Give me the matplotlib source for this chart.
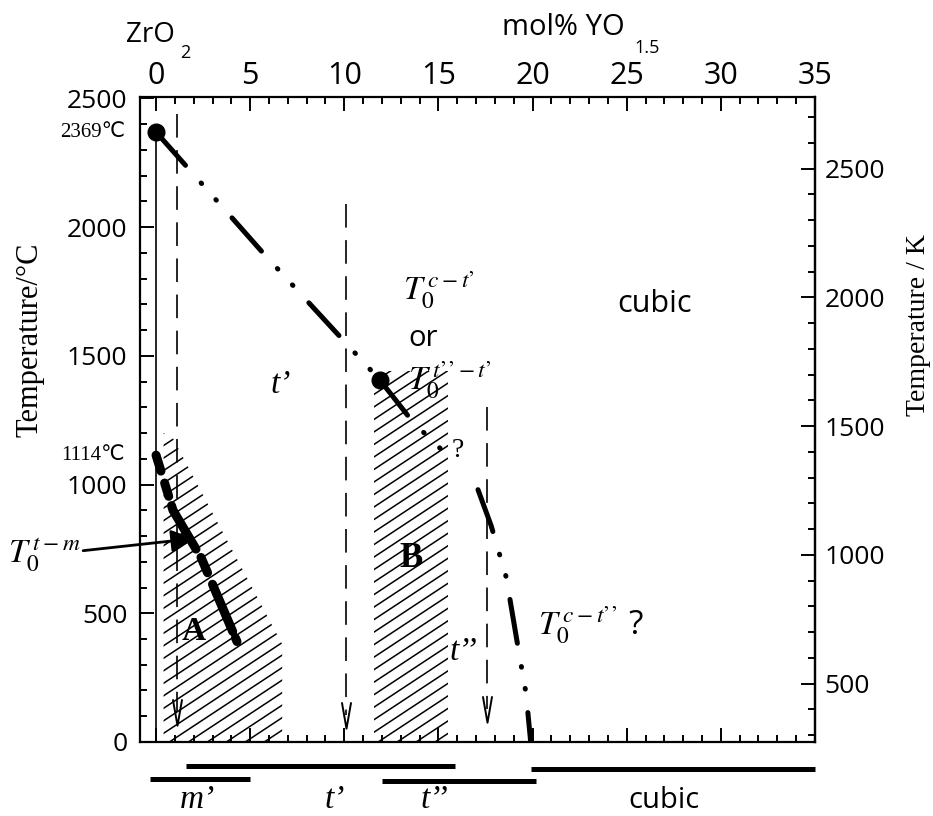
import numpy as np
import matplotlib
matplotlib.use('Agg')
import matplotlib.pyplot as plt
from matplotlib.patches import Polygon
from matplotlib.collections import LineCollection
from matplotlib.path import Path
from matplotlib.ticker import MultipleLocator

plt.rcParams['font.family'] = ['Open Sans', 'DejaVu Sans']
plt.rcParams['mathtext.fontset'] = 'stix'
plt.rcParams['lines.scale_dashes'] = False

# ZrO2 end member
zro2_x = 0
zro2_melt_t = 2369
zro2_tm_t = 1114

# T0 curves (mol% YO1.5, degC)
t0_ct_x = [0, 5.7, 11.9]
t0_ct_y = [2369, 1898, 1405]
t0_tt_x = [11.9, 13.65, 15.1]
t0_tt_y = [1405, 1242, 1140]
t0_tm_x = [0, 0.9, 2.4, 4.3]
t0_tm_y = [1114, 900, 715, 390]
t0_ctt_x = [17.1, 17.8, 18.6, 19.2, 19.65, 19.9]
t0_ctt_y = [980, 840, 640, 380, 190, 0]

# compositional limits (dashed, arrow at the bottom)
limit_x = [1.1, 10.1, 17.6]
limit_top = [2440, 2090, 1300]
limit_bot = [115, 105, 130]

# hatched regions A and B
region_a_x = [0.4, 0.4, 6.7, 6.7, 0.75]
region_a_y = [1200, 0, 0, 380, 1200]
region_b_x = [11.6, 11.6, 15.5, 15.5]
region_b_y = [1440, 0, 0, 1440]

# phase ranges at room temperature
phase_names = ["m’", "t’", "t’’", "cubic"]
phase_lo = [-0.3, 1.6, 12.0, 19.9]
phase_hi = [5.0, 15.9, 20.2, 35.0]

x_ticks = [0, 5, 10, 15, 20, 25, 30, 35]
c_ticks = [0, 500, 1000, 1500, 2000, 2500]
k_ticks = [500, 1000, 1500, 2000, 2500]

serif = ['Liberation Serif', 'DejaVu Sans']
dashdotdot = (0, (32, 17, 0.5, 15.5, 0.5, 17))


def hatch_region(ax, xs, ys, spacing=0.0194, slope=0.69):
    poly = Polygon(np.column_stack([xs, ys]), closed=True, fill=False,
                   lw=0, transform=ax.transData)
    ax.add_patch(poly)
    segs = [[(0, c), (1, c + slope)] for c in np.arange(-1.0, 1.0, spacing)]
    lc = LineCollection(segs, colors='k', linewidths=1.1,
                        transform=ax.transAxes)
    lc.set_clip_path(poly)
    ax.add_collection(lc)


fig = plt.figure(figsize=(9.33, 8.16), dpi=100)
ax = fig.add_axes([0.1501, 0.0907, 0.7234, 0.7904])
ax.set_xlim(-0.85, 35)
ax.set_ylim(0, 2505)

for s in ax.spines.values():
    s.set_linewidth(1.6)

ax.set_xticks(x_ticks)
ax.xaxis.set_minor_locator(MultipleLocator(1))
ax.tick_params(axis='x', which='both', direction='in', top=True, bottom=True,
               labeltop=True, labelbottom=False, width=1.4)
ax.tick_params(axis='x', which='major', length=10, labelsize=22, pad=4)
ax.tick_params(axis='x', which='minor', length=5)
ax.set_yticks(c_ticks)
ax.yaxis.set_minor_locator(MultipleLocator(100))
ax.tick_params(axis='y', which='both', direction='in', left=True, right=False,
               width=1.4)
ax.tick_params(axis='y', which='major', length=10, labelsize=19, pad=9)
ax.tick_params(axis='y', which='minor', length=5)

sec = ax.secondary_yaxis('right', functions=(lambda c: c + 273.15,
                                             lambda k: k - 273.15))
sec.set_yticks(k_ticks)
sec.yaxis.set_minor_locator(MultipleLocator(100))
sec.tick_params(which='both', direction='in', width=1.4)
sec.tick_params(which='major', length=10, labelsize=19, pad=7)
sec.tick_params(which='minor', length=5)
sec.spines['right'].set_linewidth(1.6)

ax.text(-0.163, 0.623, 'Temperature/°C', transform=ax.transAxes,
        rotation=90, ha='center', va='center', family=serif, fontsize=22)
ax.text(1.153, 0.647, 'Temperature / K', transform=ax.transAxes,
        rotation=90, ha='center', va='center', family=serif, fontsize=20)

# composition axis title
top = ax.get_xaxis_transform()
ax.text(-0.3, 1.085, 'ZrO', transform=top, ha='center', va='baseline',
        fontsize=20)
ax.text(1.55, 1.060, '2', transform=top, ha='center', va='baseline',
        fontsize=13)
ax.text(18.4, 1.096, 'mol% YO', transform=top, ha='left', va='baseline',
        fontsize=21)
ax.text(25.4, 1.068, '1.5', transform=top, ha='left', va='baseline',
        fontsize=13)

# hatched regions
hatch_region(ax, region_a_x, region_a_y)
hatch_region(ax, region_b_x, region_b_y)

# pure ZrO2 line
ax.vlines(zro2_x, 0, zro2_melt_t, color='k', lw=1.2)

# compositional limits with open arrowheads
vhead = Path([(-0.35, 1), (0, -1), (0.35, 1)],
             [Path.MOVETO, Path.LINETO, Path.LINETO])
for x, y0, y1 in zip(limit_x, limit_top, limit_bot):
    ax.plot([x, x], [y0, y1], color='k', lw=1.2, ls=(0, (17, 9)),
            marker=vhead, markevery=[1], ms=19, mfc='none', mec='k', mew=1.4)

# T0 curves
line_kw = dict(color='k', lw=3.6, ls=dashdotdot, dash_capstyle='round')
ax.plot(t0_ct_x, t0_ct_y, **line_kw)
ax.plot(t0_tt_x, t0_tt_y, **line_kw)
ax.plot(t0_ctt_x, t0_ctt_y, **line_kw)
ax.plot(t0_tm_x, t0_tm_y, color='k', lw=6.5, dash_capstyle='round',
        ls=(0, (12, 9, 10, 7, 36, 7, 12, 9, 37, 5)))
ax.plot([t0_ct_x[0], t0_tt_x[0]], [t0_ct_y[0], t0_tt_y[0]], 'o',
        color='k', ms=12)

# temperature markers on the left
ylab = ax.get_yaxis_transform()
ax.text(-0.022, zro2_melt_t, f'{zro2_melt_t}℃', transform=ylab, ha='right',
        va='center', family=serif, fontsize=15)
ax.text(-0.022, zro2_tm_t, f'{zro2_tm_t}℃', transform=ylab, ha='right',
        va='center', family=serif, fontsize=15)

# T0 labels
ax.text(13.1, 1755, "$T_0^{\\,c-t’}$", fontsize=24, ha='left', va='center')
ax.text(14.2, 1568, 'or', fontsize=21, ha='center', va='center')
ax.text(13.4, 1405, "$T_0^{\\,t’’-t’}$", fontsize=24, ha='left',
        va='center')
ax.text(16.0, 1133, '?', fontsize=20, family=serif, ha='center',
        va='center')
ax.text(20.3, 454, "$T_0^{\\,c-t’’}$ ?", fontsize=24, ha='left',
        va='center')
ax.annotate('$T_0^{\\,t-m}$', xy=(2.0, 790), xytext=(-0.196, 0.29),
            textcoords='axes fraction', fontsize=24, ha='left', va='center',
            arrowprops=dict(arrowstyle='-|>', color='k', lw=2,
                            mutation_scale=34, shrinkA=0, shrinkB=0),
            annotation_clip=False)

# region labels
ax.text(6.6, 1386, "t’", fontsize=24, family=serif, style='italic',
        ha='center', va='center')
ax.text(16.3, 350, "t’’", fontsize=24, family=serif, style='italic',
        ha='center', va='center')
ax.text(13.55, 714, 'B', fontsize=25, family=serif, weight='bold',
        ha='center', va='center')
ax.text(2.0, 430, 'A', fontsize=24, family=serif, weight='bold',
        ha='center', va='center')
ax.text(26.5, 1700, 'cubic', fontsize=22, ha='center', va='center')

# room temperature phase ranges below the axis
bar_y = [-0.057, -0.037, -0.060, -0.042]
label_x = [2.2, 9.5, 14.8, 27.0]
for name, lo, hi, by, lx in zip(phase_names, phase_lo, phase_hi, bar_y,
                                label_x):
    ax.plot([lo, hi], [by, by], transform=top, color='k', lw=3.6,
            clip_on=False, solid_capstyle='butt')
    if name == 'cubic':
        ax.text(lx, -0.09, name, transform=top, ha='center', va='center',
                fontsize=21)
    else:
        ax.text(lx, -0.09, name, transform=top, ha='center', va='center',
                fontsize=24, family=serif, style='italic')

fig.savefig('out.png', dpi=100)
